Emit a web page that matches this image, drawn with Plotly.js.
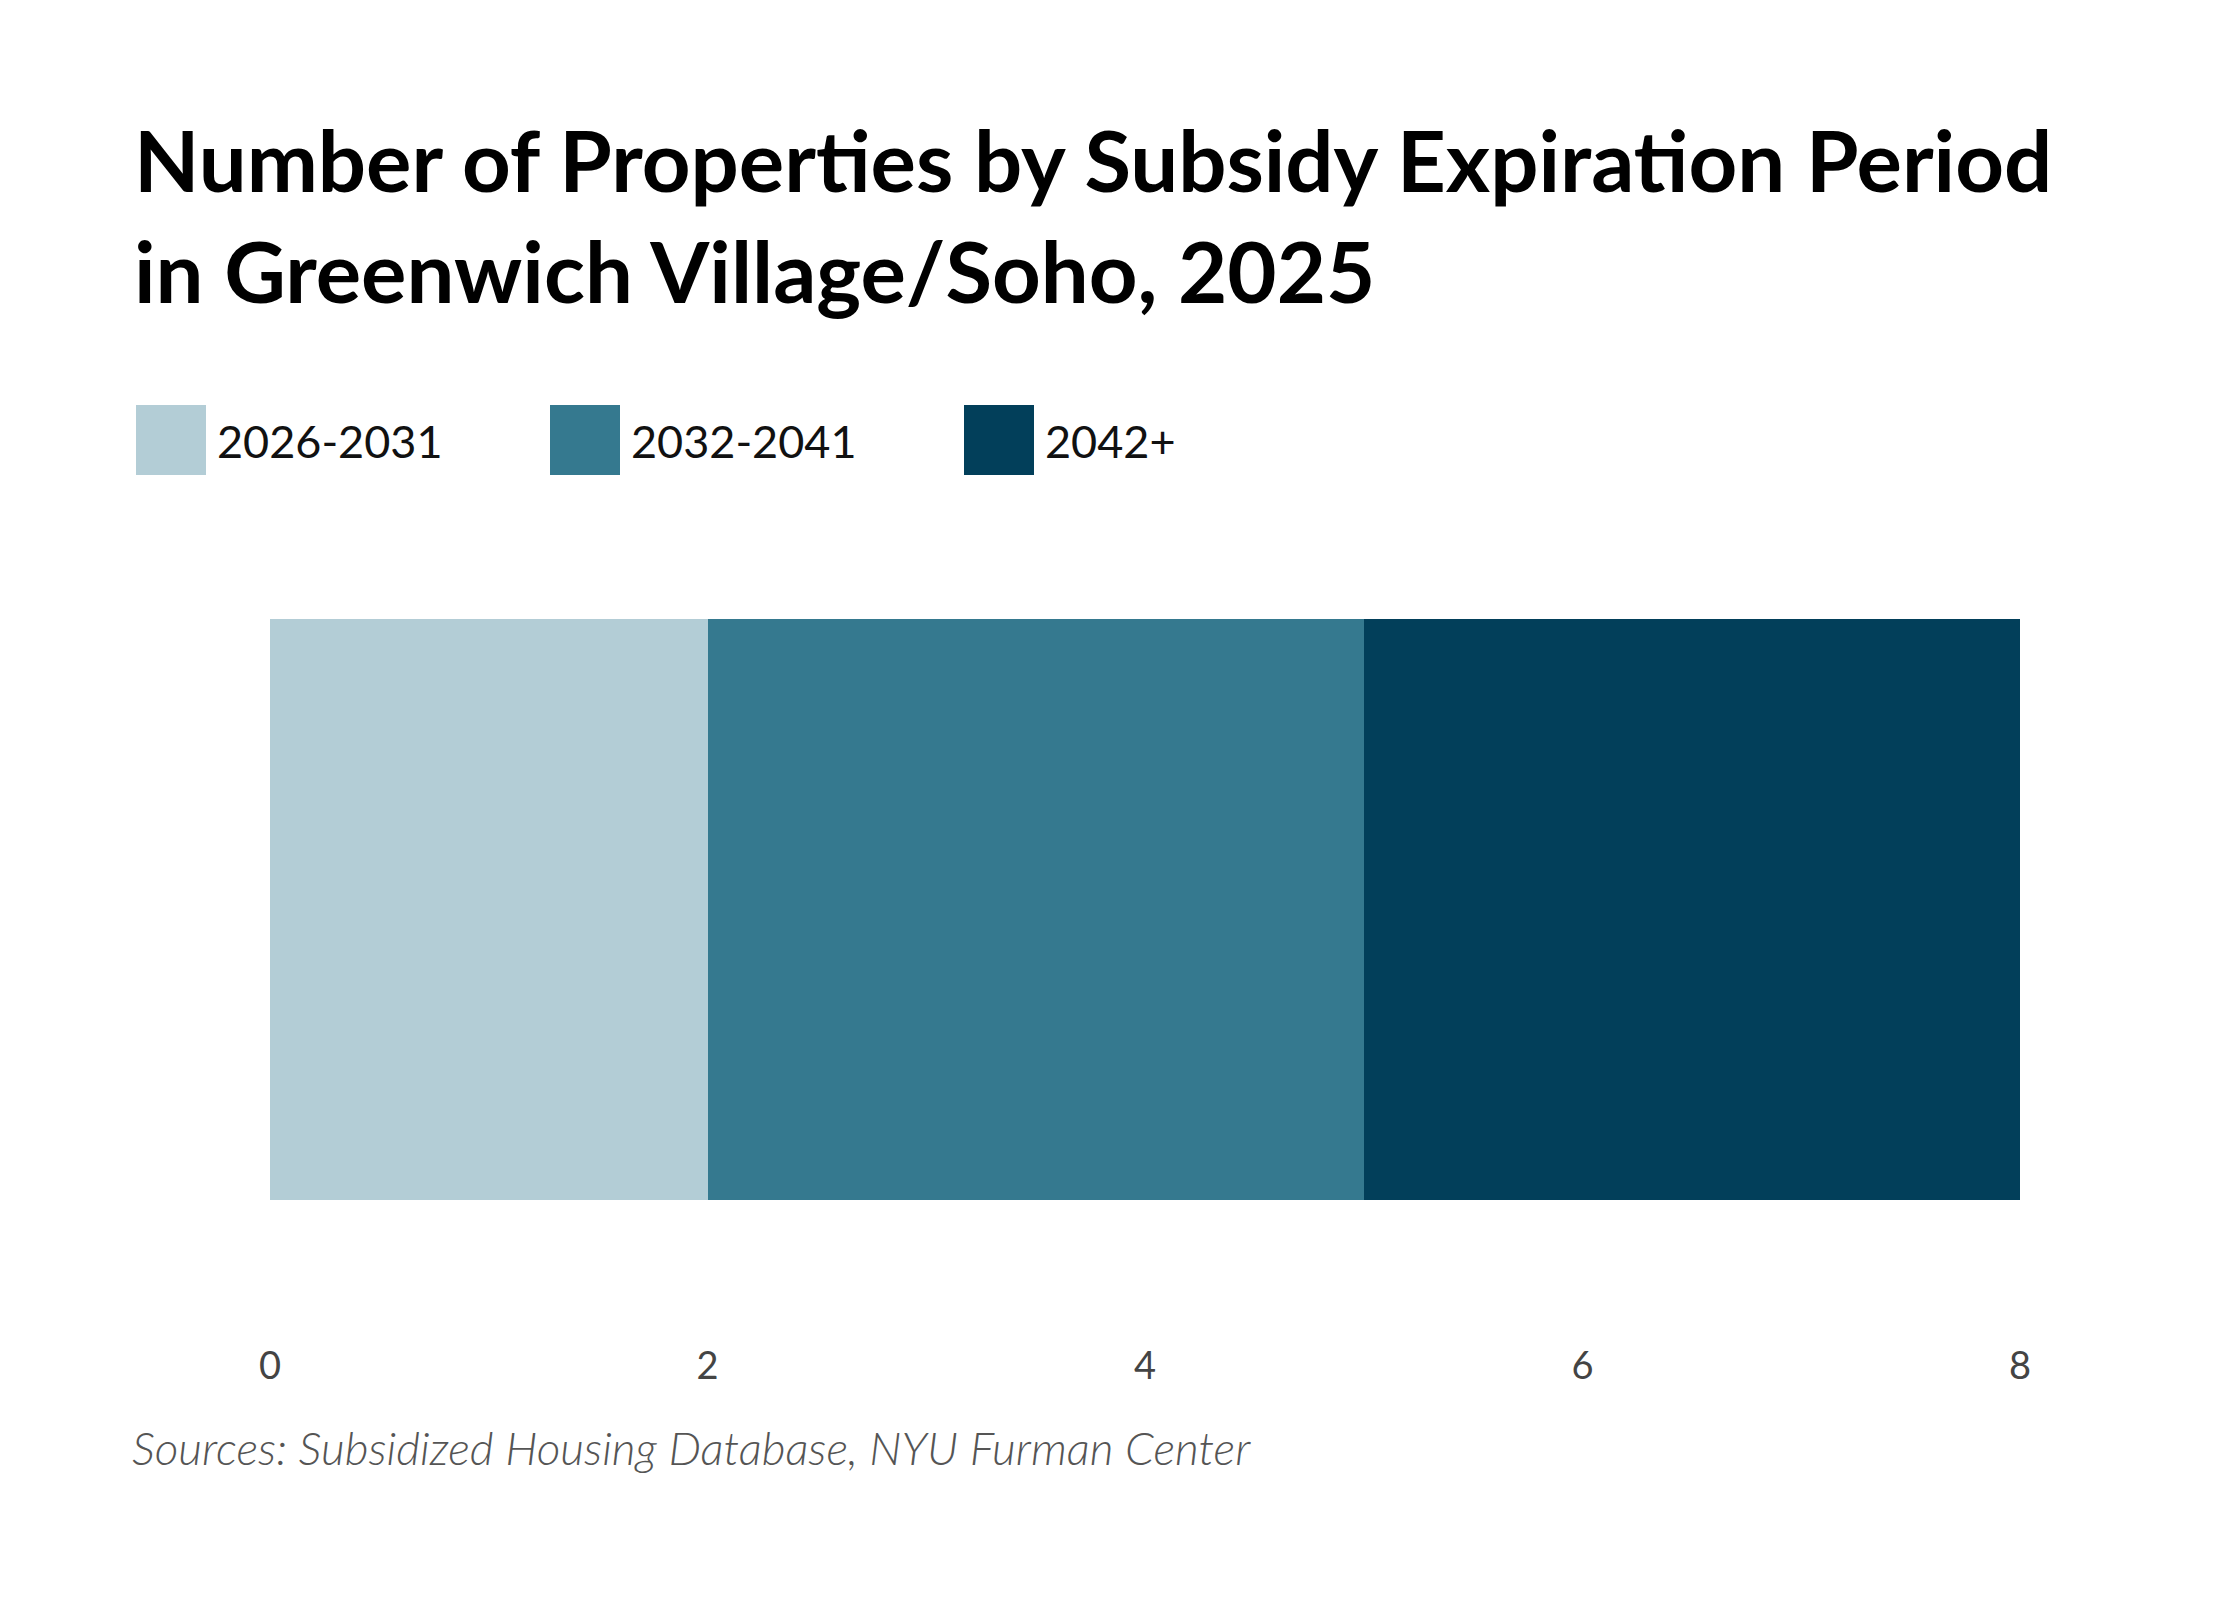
<!DOCTYPE html>
<html>
<head>
<meta charset="utf-8">
<script src="https://cdn.plot.ly/plotly-3.0.1.min.js"></script>
<style>
  body { margin: 0; background: #ffffff; }
  #chart { width: 2240px; height: 1600px; }
</style>
</head>
<body>
<div id="chart"></div>
<script>
// chart values
const category = ['Greenwich Village/Soho'];
const periods = ['2026-2031', '2032-2041', '2042+'];
const counts = [2, 3, 3];
const colors = ['#b3cdd6', '#35798f', '#023f5a'];
const tickVals = [0, 2, 4, 6, 8];

const W = 2240, H = 1600;
const plotLeft = 270, plotRight = 2020, plotTop = 619, plotBottom = 1200;

// pixel -> paper helpers, for the hand-built legend
function px(x) { return (x - plotLeft) / (plotRight - plotLeft); }
function py(y) { return (plotBottom - y) / (plotBottom - plotTop); }

let data = [];
for (let i = 0; i < periods.length; i++) {
  data.push({
    type: 'bar', orientation: 'h',
    y: category, x: [counts[i]],
    name: periods[i],
    marker: {color: colors[i], line: {width: 0}},
    hoverinfo: 'skip'
  });
}

// legend: big squares with labels
let shapes = [];
let annotations = [];
for (let i = 0; i < periods.length; i++) {
  const x0 = 136 + i * 414;
  shapes.push({
    type: 'rect', xref: 'paper', yref: 'paper',
    x0: px(x0), x1: px(x0 + 70), y0: py(475), y1: py(405),
    fillcolor: colors[i], line: {width: 0}
  });
  annotations.push({
    xref: 'paper', yref: 'paper', x: px(x0 + 79), y: py(441),
    xanchor: 'left', yanchor: 'middle', showarrow: false,
    text: periods[i],
    font: {family: 'Lato', size: 45, color: '#111111'}
  });
}
annotations.push({
  xref: 'paper', yref: 'paper', x: px(130), y: py(1447),
  xanchor: 'left', yanchor: 'middle', showarrow: false,
  text: '<i>Sources: Subsidized Housing Database, NYU Furman Center</i>',
  font: {family: 'Lato', size: 46, color: '#555555', weight: 300}
});

const layout = {
  width: W, height: H,
  paper_bgcolor: '#ffffff', plot_bgcolor: '#ffffff',
  margin: {l: plotLeft, r: W - plotRight, t: plotTop, b: H - plotBottom, pad: 0},
  title: {
    text: 'Number of Properties by Subsidy Expiration Period<br>in Greenwich Village/Soho, 2025',
    x: 134 / W, xanchor: 'left', xref: 'container',
    y: 1 - 192 / H, yanchor: 'top', yref: 'container',
    font: {family: 'Lato', size: 85, color: '#000000', weight: 700}
  },
  barmode: 'stack', bargap: 0,
  showlegend: false,
  xaxis: {
    range: [0, 8], tickvals: tickVals,
    showgrid: false, zeroline: false, showline: false, ticks: '',
    ticklabelstandoff: 140,
    tickfont: {family: 'Lato', size: 38, color: '#444444'}
  },
  yaxis: {range: [-0.5, 0.5], visible: false, fixedrange: true},
  shapes: shapes,
  annotations: annotations
};

Plotly.newPlot('chart', data, layout, {displayModeBar: false, staticPlot: true});
</script>
</body>
</html>
